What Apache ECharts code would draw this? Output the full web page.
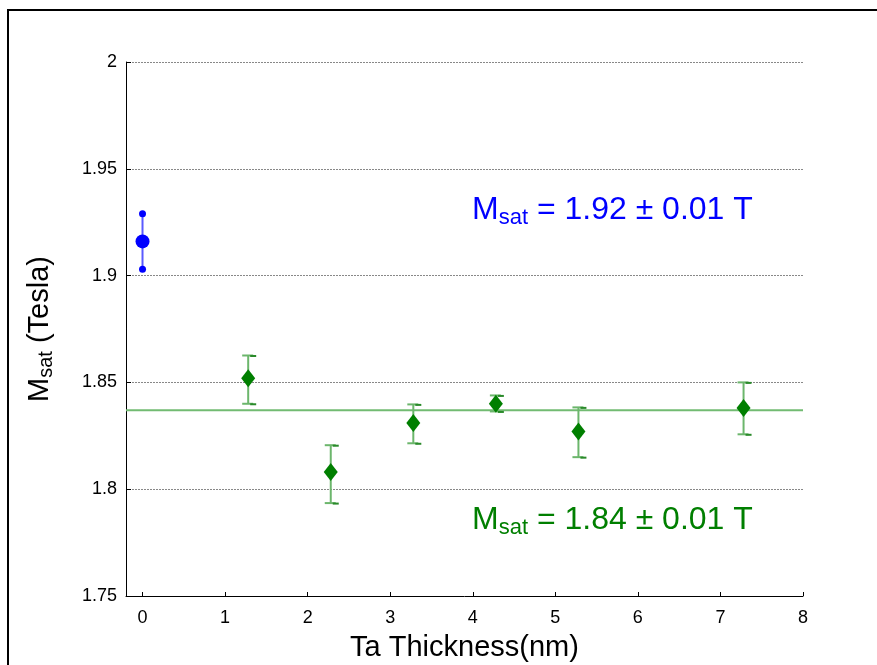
<!DOCTYPE html>
<html>
<head>
<meta charset="utf-8">
<script src="https://cdn.jsdelivr.net/npm/echarts@6/dist/echarts.min.js"></script>
<style>html,body{margin:0;padding:0;background:#fff;}#c{width:877px;height:665px;}</style>
</head>
<body>
<div id="c"></div>
<script>
// ---- data ----
const xTickValues = [0, 1, 2, 3, 4, 5, 6, 7, 8];
const yTickValues = [1.75, 1.8, 1.85, 1.9, 1.95, 2];
const refThickness = [0];
const refMsat = [1.916];
const refLow = [1.903];
const refHigh = [1.929];
const taThickness = [1.28, 2.28, 3.28, 4.28, 5.28, 7.28];
const taMsat = [1.852, 1.808, 1.831, 1.840, 1.827, 1.838];
const taLow = [1.840, 1.7935, 1.8215, 1.8364, 1.815, 1.8257];
const taHigh = [1.8626, 1.8206, 1.8397, 1.8439, 1.8383, 1.850];
const meanMsat = 1.837;
const xRange = [-0.2, 8];
const yRange = [1.75, 2];

const chart = echarts.init(document.getElementById('c'));
const FONT = 'Liberation Sans, Arial, sans-serif';

function errData(xs, lo, hi) { return xs.map((x, i) => [x, lo[i], hi[i]]); }

function errRender(lineColor, capColor, dots) {
  return function (params, api) {
    const x = api.value(0);
    const lo = api.coord([x, api.value(1)]);
    const hi = api.coord([x, api.value(2)]);
    const children = [{
      type: 'line', shape: { x1: lo[0], y1: lo[1], x2: hi[0], y2: hi[1] },
      style: { stroke: lineColor, lineWidth: 2 }
    }];
    if (dots) {
      children.push({ type: 'circle', shape: { cx: lo[0], cy: lo[1], r: 3.5 }, style: { fill: capColor } });
      children.push({ type: 'circle', shape: { cx: hi[0], cy: hi[1], r: 3.5 }, style: { fill: capColor } });
    } else {
      [lo, hi].forEach(p => {
        children.push({ type: 'line', shape: { x1: p[0] - 6, y1: p[1], x2: p[0] + 5, y2: p[1] }, style: { stroke: lineColor, lineWidth: 2 } });
        children.push({ type: 'line', shape: { x1: p[0] + 2, y1: p[1] + 0.5, x2: p[0] + 8, y2: p[1] + 0.5 }, style: { stroke: capColor, lineWidth: 2 } });
      });
    }
    return { type: 'group', children };
  };
}

const option = {
  animation: false,
  backgroundColor: '#fff',
  grid: { left: 126, top: 62, width: 677, height: 534, containLabel: false, outerBoundsMode: 'none' },
  xAxis: {
    type: 'value', min: xRange[0], max: xRange[1],
    name: 'Ta Thickness(nm)', nameLocation: 'middle', nameGap: 37,
    nameTextStyle: { fontFamily: FONT, fontSize: 29, color: '#000' },
    axisLine: { show: true, onZero: false, lineStyle: { color: '#000', width: 1 } },
    axisTick: { show: true, inside: true, length: 4, customValues: xTickValues, lineStyle: { color: '#000' } },
    axisLabel: { customValues: xTickValues, fontFamily: FONT, fontSize: 18, color: '#000', margin: 13 },
    splitLine: { show: false }
  },
  yAxis: {
    type: 'value', min: yRange[0], max: yRange[1], interval: 0.05,
    name: '{m|M}{s|sat}{m| (Tesla)}', nameLocation: 'middle', nameGap: 70, nameRotate: 90,
    nameTextStyle: {
      rich: {
        m: { fontFamily: FONT, fontSize: 29, color: '#000' },
        s: { fontFamily: FONT, fontSize: 20, color: '#000', verticalAlign: 'bottom', padding: [12, 0, 0, 0] }
      }
    },
    axisLine: { show: true, onZero: false, lineStyle: { color: '#000', width: 1 } },
    axisTick: { show: true, inside: true, length: 5, customValues: yTickValues, lineStyle: { color: '#000' } },
    axisLabel: { customValues: yTickValues, fontFamily: FONT, fontSize: 18, color: '#000', margin: 9,
      formatter: v => String(Math.round(v * 100) / 100) },
    splitLine: { show: true, lineStyle: { color: '#888', type: [2, 1], width: 1 } }
  },
  series: [
    {
      type: 'line', data: xRange.map(x => [x, meanMsat]), symbol: 'none',
      lineStyle: { color: '#72bb72', width: 2 }, z: 2, silent: true
    },
    {
      type: 'custom', data: errData(refThickness, refLow, refHigh),
      renderItem: errRender('#5a5aff', '#0000ff', true), z: 3
    },
    {
      type: 'custom', data: errData(taThickness, taLow, taHigh),
      renderItem: errRender('#6cb66c', '#2a8a2a', false), z: 3
    },
    {
      type: 'scatter', data: refThickness.map((x, i) => [x, refMsat[i]]),
      symbol: 'circle', symbolSize: 14, itemStyle: { color: '#0000ff', opacity: 1 }, z: 4
    },
    {
      type: 'scatter', data: taThickness.map((x, i) => [x, taMsat[i]]),
      symbol: 'diamond', symbolSize: [14, 18], itemStyle: { color: '#007f00', opacity: 1 }, z: 4
    }
  ],
  graphic: [
    { type: 'rect', shape: { x: 8, y: 10, width: 900, height: 700 }, style: { fill: 'none', stroke: '#000', lineWidth: 2 }, silent: true },
    {
      type: 'text', left: 472, top: 194,
      style: {
        text: '{m|M}{s|sat}{m| = 1.92 ± 0.01 T}',
        rich: {
          m: { fontFamily: FONT, fontSize: 32, fill: '#0000ff' },
          s: { fontFamily: FONT, fontSize: 22, fill: '#0000ff', verticalAlign: 'bottom', padding: [16, 0, 0, 0] }
        }
      }
    },
    {
      type: 'text', left: 472, top: 504,
      style: {
        text: '{m|M}{s|sat}{m| = 1.84 ± 0.01 T}',
        rich: {
          m: { fontFamily: FONT, fontSize: 32, fill: '#007f00' },
          s: { fontFamily: FONT, fontSize: 22, fill: '#007f00', verticalAlign: 'bottom', padding: [16, 0, 0, 0] }
        }
      }
    }
  ]
};
chart.setOption(option);
</script>
</body>
</html>
